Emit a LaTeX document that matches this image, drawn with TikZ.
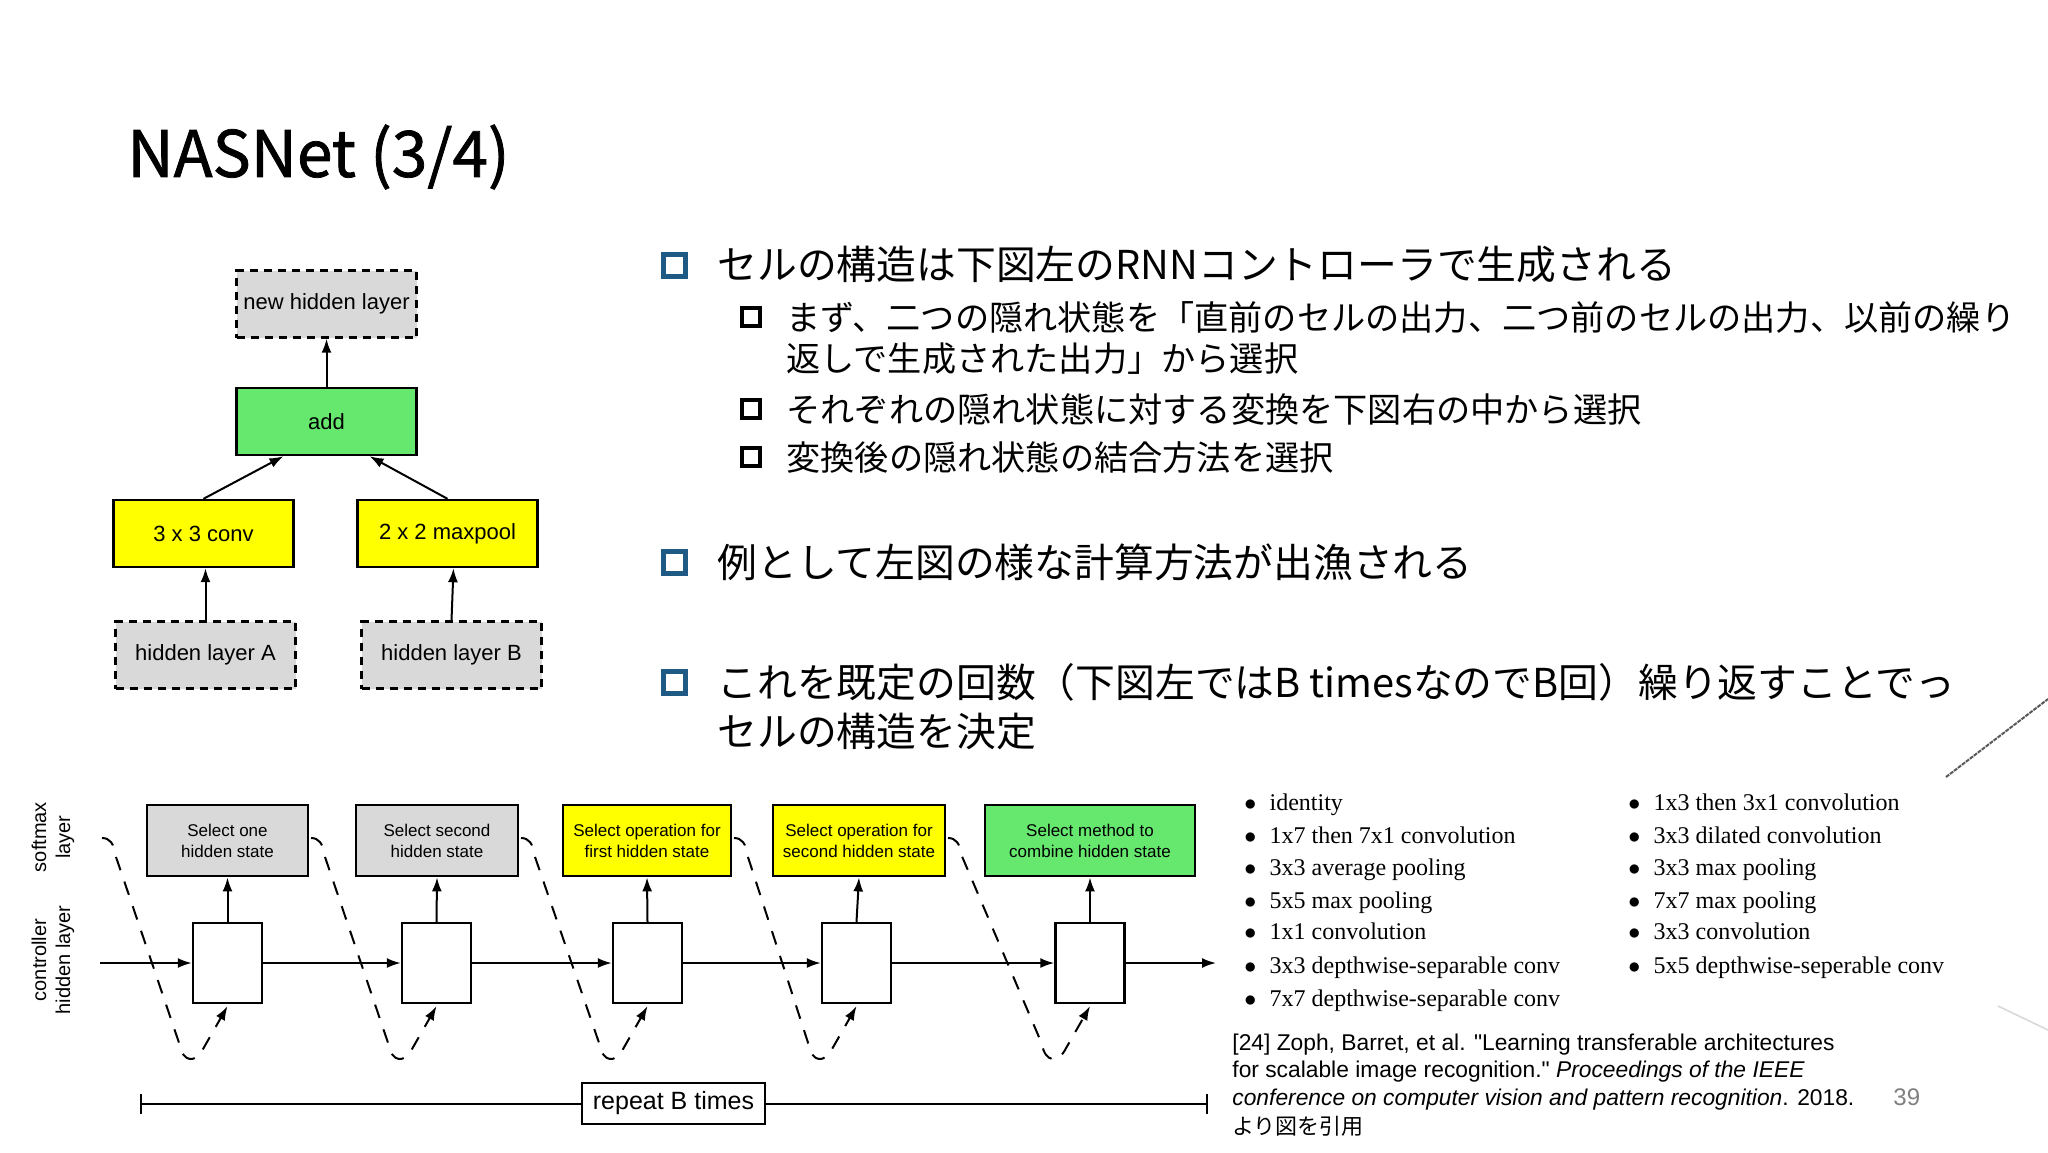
\documentclass[tikz,border=0pt]{standalone}
\usepackage{fontspec}
\setmainfont{Liberation Serif}
\newfontfamily\jp{Noto Sans CJK JP}
\newfontfamily\jpt[FakeBold=1.2]{Noto Sans CJK JP}
\newfontfamily\ar{Liberation Sans}
\usetikzlibrary{calc,arrows.meta}
\definecolor{bblue}{HTML}{1F5A85}
\definecolor{gbox}{HTML}{D9D9D9}
\definecolor{ybox}{HTML}{FFFF00}
\definecolor{grbox}{HTML}{66E86E}
\begin{document}
\begin{tikzpicture}[x=0.5pt,y=-0.5pt,
  tl/.style={draw,line width=1.2pt,font=\ar\fontsize{11}{13}\selectfont,inner sep=0pt,minimum width=90pt,minimum height=33.5pt},
  dsh/.style={tl,dashed,dash pattern=on 4pt off 3pt,fill=gbox},
  sm/.style={draw,line width=1.4pt,font=\ar\fontsize{8.5}{10.5}\selectfont,align=center,inner sep=0pt,minimum height=35.5pt},
  hb/.style={draw,line width=1.2pt,fill=white,minimum width=34.5pt,minimum height=40pt,inner sep=0pt},
  arr/.style={-{Latex[length=7pt,width=5pt]},line width=1pt},
  dc/.style={line width=1pt,dash pattern=on 7pt off 6pt},
  mb/.style={anchor=west,font=\jp\fontsize{19.9}{24}\selectfont,inner sep=0pt},
  sb/.style={anchor=west,font=\jp\fontsize{17.1}{20}\selectfont,inner sep=0pt},
  li/.style={anchor=base west,font=\fontsize{14}{16}\selectfont,inner sep=0pt},
  rf/.style={anchor=west,font=\ar\fontsize{11.4}{13}\selectfont,inner sep=0pt}]
\useasboundingbox (0,0) rectangle (2048,1152);
\fill[white] (0,0) rectangle (2048,1152);
% title
\node[anchor=west,inner sep=0pt,font=\jpt\fontsize{32}{40}\selectfont] (title) at (127,157) {NASNet (3/4)};
% top-left diagram
\node[dsh] (newh) at (326.5,304) {new hidden layer};
\node[tl,fill=grbox] (add) at (326.5,421.5) {add};
\node[tl,fill=ybox] (conv) at (203.5,533.5) {3 x 3 conv};
\node[tl,fill=ybox] (mp) at (447.5,533.5) {2 x 2 maxpool};
\node[dsh] (hA) at (205.5,655) {hidden layer A};
\node[dsh] (hB) at (451.5,655) {hidden layer B};
\draw[arr] (add.north) -- (newh.south);
\draw[arr] (conv.north) -- ($(add.south)+(-43,0)$);
\draw[arr] (mp.north) -- ($(add.south)+(43,0)$);
\draw[arr] (hA.north) -- ($(conv.south)+(2,0)$);
\draw[arr] (hB.north) -- ($(mp.south)+(6,0)$);
% bullets
\tikzset{bq/.style={draw=bblue,line width=2.5pt,minimum size=11pt,inner sep=0pt},
  kq/.style={draw=black,line width=2.2pt,minimum size=9pt,inner sep=0pt}}
\node[bq] (b1) at (674,265) {};
\node[mb] (t1) at (717,265) {セルの構造は下図左のRNNコントローラで生成される};
\node[kq] (k1) at (751,317) {};
\node[sb] (u1) at (786,317) {まず、二つの隠れ状態を「直前のセルの出力、二つ前のセルの出力、以前の繰り};
\node[sb] (u1b) at (786,359) {返しで生成された出力」から選択};
\node[kq] (k2) at (751,409) {};
\node[sb] (u2) at (786,409) {それぞれの隠れ状態に対する変換を下図右の中から選択};
\node[kq] (k3) at (751,457) {};
\node[sb] (u3) at (786,457) {変換後の隠れ状態の結合方法を選択};
\node[bq] (b2) at (674,562) {};
\node[mb] (t2) at (717,562) {例として左図の様な計算方法が出漁される};
\node[bq] (b3) at (674,682) {};
\node[mb] (t3) at (717,682) {これを既定の回数（下図左ではB timesなのでB回）繰り返すことでっ};
\node[mb] (t3b) at (717,731) {セルの構造を決定};
% bottom diagram
\node[sm,fill=gbox,minimum width=80.5pt] (s1) at (227.5,840.5) {Select one\\hidden state};
\node[sm,fill=gbox,minimum width=81pt] (s2) at (437,840.5) {Select second\\hidden state};
\node[sm,fill=ybox,minimum width=84pt] (s3) at (647,840.5) {Select operation for\\first hidden state};
\node[sm,fill=ybox,minimum width=86pt] (s4) at (859,840.5) {Select operation for\\second hidden state};
\node[sm,fill=grbox,minimum width=105pt] (s5) at (1090,840.5) {Select method to\\combine hidden state};
\node[hb] (h1) at (227.5,963) {};
\node[hb] (h2) at (436.5,963) {};
\node[hb] (h3) at (647.5,963) {};
\node[hb] (h4) at (856.5,963) {};
\node[hb] (h5) at (1090,963) {};
\foreach \i in {1,...,5}{\draw[arr] (h\i.north) -- (s\i.south);}
\coordinate (hs) at (100,963);
\coordinate (he) at (1216,963);
\draw[arr] (hs) -- (h1.west);
\draw[arr] (h1.east) -- (h2.west);
\draw[arr] (h2.east) -- (h3.west);
\draw[arr] (h3.east) -- (h4.west);
\draw[arr] (h4.east) -- (h5.west);
\draw[arr] (h5.east) -- (he);
\foreach \i/\sx in {1/102,2/311,3/521,4/734,5/948}{
  \draw[dc,-{Latex[length=7pt,width=5pt]}] (\sx,838) .. controls ($(\sx,838)+(8,0)$) and ($(\sx,838)+(12,6)$) .. ($(\sx,838)+(13,16)$)
    -- ($(h\i.south)+(-48,40)$) .. controls ($(h\i.south)+(-45,58)$) and ($(h\i.south)+(-32,60)$) .. ($(h\i.south)+(-24,44)$)
    -- ($(h\i.south)+(0,2)$);
}
\node[rotate=90,align=center,font=\ar\fontsize{10}{12}\selectfont] (lsm) at (53,837) {softmax\\layer};
\node[rotate=90,align=center,font=\ar\fontsize{10}{12}\selectfont] (lch) at (53,960) {controller\\hidden layer};
\coordinate (r1) at (140,1104);
\coordinate (r2) at (1208,1104);
\draw[line width=1.2pt,{Bar[width=10pt]}-{Bar[width=10pt]}] (r1) -- (r2);
\node[draw,fill=white,line width=1pt,minimum width=91.5pt,minimum height=20.5pt,inner sep=0pt,font=\ar\fontsize{12.5}{14}\selectfont] (rep) at (673.5,1103.5) {repeat B times};
% lists
\foreach \y/\t [count=\n] in {810/identity,843/1x7 then 7x1 convolution,875/3x3 average pooling,908/5x5 max pooling,939/1x1 convolution,973/3x3 depthwise-separable conv,1006/7x7 depthwise-separable conv}{
  \node[li] (la\n) at (1244,\y) {\large$\bullet$\hspace{0.55em}\t};}
\foreach \y/\t [count=\n] in {810/1x3 then 3x1 convolution,843/3x3 dilated convolution,875/3x3 max pooling,908/7x7 max pooling,939/3x3 convolution,973/5x5 depthwise-seperable conv}{
  \node[li] (lb\n) at (1628,\y) {\large$\bullet$\hspace{0.55em}\t};}
\node[rf] (c1) at (1232,1045) {[24] Zoph, Barret, et al. "Learning transferable architectures};
\node[rf] (c2) at (1232,1072) {for scalable image recognition." \textit{Proceedings of the IEEE}};
\node[rf] (c3) at (1232,1100) {\textit{conference on computer vision and pattern recognition}. 2018.};
\node[anchor=west,inner sep=0pt,font=\jp\fontsize{11}{13}\selectfont] (c4) at (1232,1126) {より図を引用};
\node[anchor=west,inner sep=0pt,text=gray,font=\ar\fontsize{12}{14}\selectfont] (pg) at (1893,1097) {39};
% stray marks
\coordinate (d1) at (1946,777); \coordinate (d2) at (2048,699);
\draw[gray!70!black,line width=1pt,dash pattern=on 2pt off 0.5pt] (d1) -- (d2);
\coordinate (d3) at (1998,1006); \coordinate (d4) at (2048,1030);
\draw[gray!30,line width=0.8pt] (d3) -- (d4);
\end{tikzpicture}
\end{document}
